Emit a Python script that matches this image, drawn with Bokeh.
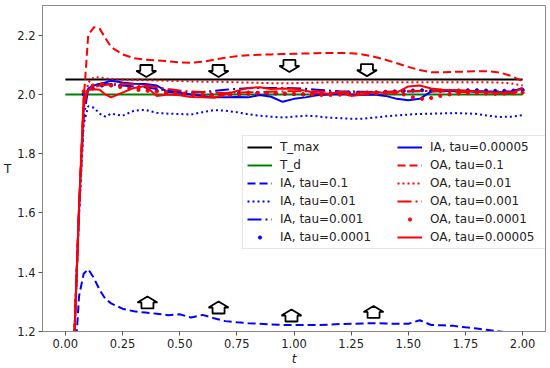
from bokeh.plotting import figure
from bokeh.models import Range1d, FixedTicker, NumeralTickFormatter, Legend, LegendItem
from bokeh.embed import file_html
from bokeh.resources import INLINE

# ---------------- data ----------------
t = [0.0, 0.04, 0.06, 0.08, 0.1, 0.125, 0.15, 0.175, 0.2, 0.25, 0.3, 0.35, 0.4, 0.45, 0.5,
     0.55, 0.6, 0.65, 0.7, 0.75, 0.8, 0.85, 0.9, 0.95, 1.0, 1.05, 1.1, 1.15, 1.2, 1.25,
     1.3, 1.35, 1.4, 1.45, 1.5, 1.55, 1.6, 1.65, 1.7, 1.75, 1.8, 1.85, 1.9, 1.95, 2.0]

t_lim = [0.0, 2.0]
T_max = [2.05, 2.05]
T_d = [2.0, 2.0]

ia_tau_01 = [0.9, 1.08, 1.32, 1.395, 1.41, 1.38, 1.34, 1.31, 1.295, 1.277, 1.268, 1.264, 1.26,
             1.255, 1.258, 1.247, 1.256, 1.245, 1.235, 1.231, 1.228, 1.226, 1.224, 1.222, 1.222,
             1.222, 1.222, 1.223, 1.225, 1.226, 1.227, 1.228, 1.227, 1.226, 1.226, 1.238, 1.222,
             1.221, 1.219, 1.214, 1.21, 1.205, 1.2, 1.195, 1.19]
ia_tau_001 = [1.0, 1.2, 1.6, 1.9, 1.96, 1.955, 1.935, 1.925, 1.935, 1.928, 1.945, 1.948, 1.938,
              1.935, 1.934, 1.932, 1.94, 1.947, 1.945, 1.94, 1.933, 1.928, 1.925, 1.922, 1.925,
              1.928, 1.926, 1.922, 1.92, 1.918, 1.918, 1.922, 1.926, 1.929, 1.932, 1.934, 1.935,
              1.936, 1.937, 1.936, 1.934, 1.928, 1.924, 1.925, 1.93]
ia_tau_0001 = [1.0, 1.2, 1.6, 1.92, 2.02, 2.03, 2.035, 2.035, 2.033, 2.03, 2.027, 2.024, 2.018,
               2.012, 2.008, 2.006, 2.008, 2.012, 2.016, 2.019, 2.021, 2.022, 2.022, 2.022, 2.021,
               2.019, 2.016, 2.013, 2.011, 2.01, 2.009, 2.008, 2.008, 2.009, 2.01, 2.011, 2.012,
               2.012, 2.012, 2.011, 2.011, 2.01, 2.01, 2.01, 2.012]
ia_tau_000005 = [1.0, 1.2, 1.62, 1.96, 2.02, 2.03, 2.035, 2.04, 2.046, 2.04, 2.036, 2.035, 2.03,
                 2.008, 2.006, 2.0, 1.995, 1.99, 1.99, 1.991, 1.99, 1.998, 1.992, 1.975, 1.985,
                 1.99, 1.997, 2.0, 2.001, 2.0, 1.999, 2.0, 1.995, 1.985, 1.98, 1.985, 2.01, 2.012,
                 2.011, 2.01, 2.009, 2.008, 2.007, 2.009, 2.022]
oa_tau_01 = [1.0, 1.2, 1.62, 1.98, 2.2, 2.227, 2.222, 2.19, 2.16, 2.135, 2.122, 2.117, 2.115,
             2.112, 2.108, 2.107, 2.11, 2.117, 2.124, 2.129, 2.132, 2.134, 2.135, 2.136, 2.137,
             2.138, 2.139, 2.14, 2.14, 2.139, 2.135, 2.127, 2.117, 2.105, 2.093, 2.082, 2.075,
             2.075, 2.076, 2.077, 2.078, 2.078, 2.074, 2.062, 2.045]
oa_tau_001 = [1.0, 1.2, 1.62, 1.95, 2.04, 2.058, 2.057, 2.054, 2.052, 2.05, 2.049, 2.048, 2.047,
              2.046, 2.045, 2.044, 2.043, 2.043, 2.042, 2.041, 2.04, 2.039, 2.038, 2.038, 2.038,
              2.039, 2.04, 2.041, 2.041, 2.041, 2.041, 2.041, 2.041, 2.041, 2.041, 2.041, 2.041,
              2.041, 2.041, 2.041, 2.041, 2.041, 2.04, 2.037, 2.03]
oa_tau_0001 = [1.0, 1.2, 1.62, 1.96, 2.02, 2.025, 2.03, 2.032, 2.035, 2.036, 2.034, 2.03, 2.024,
               2.018, 2.013, 2.01, 2.008, 2.006, 2.005, 2.006, 2.007, 2.008, 2.009, 2.01, 2.011,
               2.011, 2.01, 2.009, 2.008, 2.007, 2.007, 2.008, 2.009, 2.01, 2.011, 2.012, 2.011,
               2.01, 2.009, 2.008, 2.008, 2.007, 2.007, 2.007, 2.008]
oa_tau_000005 = [1.0, 1.2, 1.62, 1.99, 2.015, 2.017, 2.016, 2.0, 1.99, 2.006, 2.022, 2.028, 1.995,
                 2.0, 1.997, 1.991, 1.99, 1.989, 2.0, 2.012, 2.022, 2.024, 2.018, 2.02, 2.019,
                 2.012, 2.004, 2.002, 2.007, 1.995, 2.0, 2.007, 2.006, 2.006, 2.027, 2.03, 2.02,
                 2.016, 2.015, 2.013, 2.01, 2.007, 2.005, 2.005, 2.02]

t_dots = [0.08, 0.12, 0.16, 0.2, 0.24, 0.28, 0.32, 0.36, 0.4, 0.44, 0.48, 0.52, 0.56, 0.6, 0.64,
          0.68, 0.72, 0.76, 0.8, 0.84, 0.88, 0.92, 0.96, 1.0, 1.04, 1.08, 1.12, 1.16, 1.2, 1.24,
          1.28, 1.32, 1.36, 1.4, 1.44, 1.48, 1.52, 1.56, 1.6, 1.64, 1.68, 1.72, 1.76, 1.8, 1.84,
          1.88, 1.92, 1.96, 2.0]
ia_tau_00001 = [2.0, 2.02, 2.03, 2.032, 2.03, 2.026, 2.022, 2.02, 2.012, 2.006, 2.003, 2.0, 1.998,
                1.997, 1.998, 2.0, 2.003, 2.005, 2.006, 2.005, 2.004, 2.003, 2.002, 2.001, 2.0,
                2.0, 2.001, 2.003, 2.005, 2.006, 2.006, 2.006, 2.007, 2.009, 2.01, 2.012, 2.013,
                2.014, 2.013, 2.012, 2.012, 2.013, 2.014, 2.014, 2.013, 2.012, 2.012, 2.013, 2.015]
oa_tau_00001 = [2.01, 2.03, 2.035, 2.03, 2.025, 2.02, 2.015, 2.012, 2.01, 2.008, 2.005, 2.003, 2.0,
                1.998, 1.997, 1.996, 1.998, 2.0, 2.002, 2.004, 2.005, 2.004, 2.003, 2.002, 2.0,
                1.999, 1.998, 1.998, 1.999, 2.0, 2.001, 2.002, 2.003, 2.004, 2.004, 2.0, 1.99,
                1.985, 1.988, 1.995, 2.0, 2.003, 2.004, 2.004, 2.003, 2.002, 2.003, 2.004, 2.006]

down_arrow_t = [0.354, 0.670, 0.980, 1.319]
down_arrow_T = [2.079, 2.079, 2.096, 2.082]
up_arrow_t = [0.359, 0.670, 0.989, 1.348]
up_arrow_T = [1.298, 1.281, 1.254, 1.266]

x_ticks = [0.0, 0.25, 0.5, 0.75, 1.0, 1.25, 1.5, 1.75, 2.0]
y_ticks = [1.2, 1.4, 1.6, 1.8, 2.0, 2.2]

# ---------------- figure ----------------
FW, FH = 503, 326
X0, X1, Y0, Y1 = -0.1, 2.1, 1.2, 2.3
FONT = "DejaVu Sans"

p = figure(frame_width=FW, frame_height=FH, output_backend="svg", toolbar_location=None,
           x_range=Range1d(X0, X1), y_range=Range1d(Y0, Y1),
           min_border_left=37, min_border_right=1, min_border_top=5, min_border_bottom=34)
p.xgrid.visible = False
p.ygrid.visible = False
p.outline_line_color = "#8a8a8a"
p.outline_line_width = 1

for ax in (p.xaxis[0], p.yaxis[0]):
    ax.axis_line_color = "#8a8a8a"
    ax.major_tick_line_color = "#555555"
    ax.major_tick_out = 4
    ax.major_tick_in = 0
    ax.minor_tick_line_color = None
    ax.major_label_text_font = FONT
    ax.major_label_text_font_size = "11.5px"
    ax.major_label_text_color = "#222222"
    ax.axis_label_text_font = FONT
    ax.axis_label_text_font_size = "12px"
    ax.axis_label_text_color = "#222222"
    ax.major_label_standoff = 3

p.xaxis.ticker = FixedTicker(ticks=x_ticks)
p.xaxis.formatter = NumeralTickFormatter(format="0.00")
p.yaxis.ticker = FixedTicker(ticks=y_ticks)
p.yaxis.formatter = NumeralTickFormatter(format="0.0")
p.xaxis.axis_label = "t"
p.xaxis.axis_label_text_font_style = "italic"
p.xaxis.axis_label_standoff = 1
p.yaxis.axis_label = "T"
p.yaxis.axis_label_text_font_style = "normal"
p.yaxis.axis_label_orientation = "horizontal"
p.yaxis.axis_label_standoff = 3

LW = 2.0
r_tmax = p.line(t_lim, T_max, color="black", line_width=LW)
r_td = p.line(t_lim, T_d, color="green", line_width=LW)
r_ia1 = p.line(t, ia_tau_01, color="blue", line_width=LW, line_dash="8 4")
r_ia2 = p.line(t, ia_tau_001, color="blue", line_width=LW, line_dash="2 3")
r_ia3 = p.line(t, ia_tau_0001, color="blue", line_width=LW, line_dash="14 4 2 4")
r_ia4 = p.scatter(t_dots, ia_tau_00001, color="blue", size=3.2, marker="circle")
r_ia5 = p.line(t, ia_tau_000005, color="blue", line_width=LW)
r_oa1 = p.line(t, oa_tau_01, color="red", line_width=LW, line_dash="8 4")
r_oa2 = p.line(t, oa_tau_001, color="red", line_width=LW, line_dash="2 3")
r_oa3 = p.line(t, oa_tau_0001, color="red", line_width=LW, line_dash="14 4 2 4")
r_oa4 = p.scatter(t_dots, oa_tau_00001, color="red", size=3.2, marker="circle")
r_oa5 = p.line(t, oa_tau_000005, color="red", line_width=LW)

# hollow block arrows (shape in screen px, converted to data units)
px_x = FW / (X1 - X0)
px_y = FH / (Y1 - Y0)
shape_down = [(-6, 6), (6, 6), (6, 0), (10, 0), (0, -6), (-10, 0), (-6, 0)]
xs, ys = [], []
for cx, cy in zip(down_arrow_t, down_arrow_T):
    xs.append([cx + dx / px_x for dx, dy in shape_down])
    ys.append([cy + dy / px_y for dx, dy in shape_down])
for cx, cy in zip(up_arrow_t, up_arrow_T):
    xs.append([cx + dx / px_x for dx, dy in shape_down])
    ys.append([cy - dy / px_y for dx, dy in shape_down])
p.patches(xs, ys, fill_color="white", line_color="black", line_width=1.8)

items = [
    LegendItem(label="T_max", renderers=[r_tmax]),
    LegendItem(label="T_d", renderers=[r_td]),
    LegendItem(label="IA, tau=0.1", renderers=[r_ia1]),
    LegendItem(label="IA, tau=0.01", renderers=[r_ia2]),
    LegendItem(label="IA, tau=0.001", renderers=[r_ia3]),
    LegendItem(label="IA, tau=0.0001", renderers=[r_ia4]),
    LegendItem(label="IA, tau=0.00005", renderers=[r_ia5]),
    LegendItem(label="OA, tau=0.1", renderers=[r_oa1]),
    LegendItem(label="OA, tau=0.01", renderers=[r_oa2]),
    LegendItem(label="OA, tau=0.001", renderers=[r_oa3]),
    LegendItem(label="OA, tau=0.0001", renderers=[r_oa4]),
    LegendItem(label="OA, tau=0.00005", renderers=[r_oa5]),
]
legend = Legend(items=items, ncols=2, location=(200, 82))
legend.label_text_font = FONT
legend.label_text_font_size = "12px"
legend.label_text_color = "#222222"
legend.border_line_color = "#cccccc"
legend.border_line_width = 1
legend.background_fill_alpha = 0.85
legend.padding = 4
legend.margin = 0
legend.spacing = 4
legend.glyph_width = 25
legend.glyph_height = 8
legend.label_height = 13
legend.label_standoff = 8
legend.label_width = 113
p.add_layout(legend, "center")

open("out.html", "w").write(file_html(p, INLINE))
